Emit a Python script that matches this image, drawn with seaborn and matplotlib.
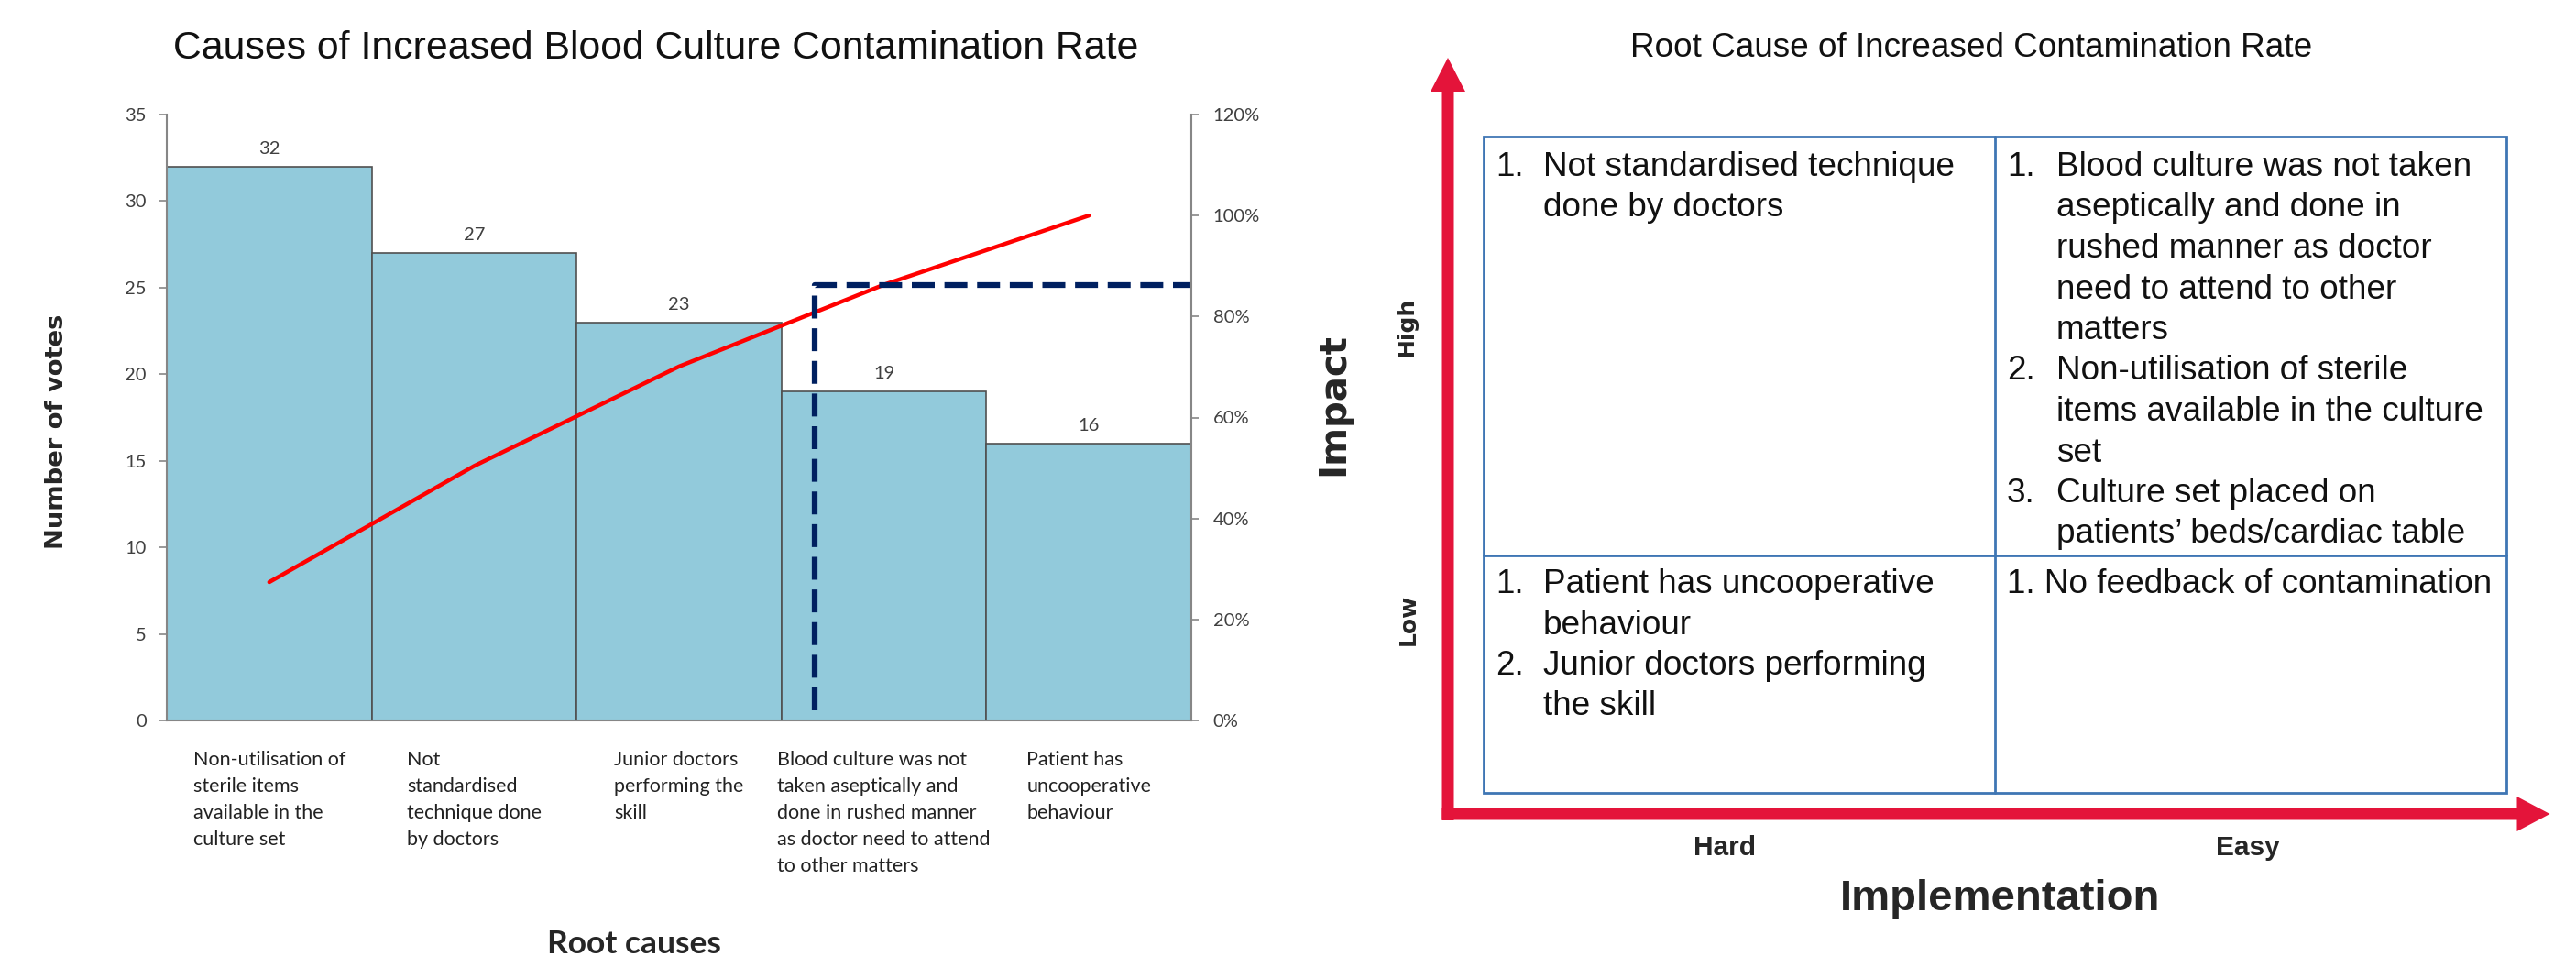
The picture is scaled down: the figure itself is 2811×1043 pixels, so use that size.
import matplotlib
matplotlib.use("Agg")
import matplotlib.pyplot as plt
from matplotlib.patches import FancyArrow, Rectangle
from matplotlib.ticker import PercentFormatter
import seaborn as sns

# pareto chart data
causes = [
    "Non-utilisation of\nsterile items\navailable in the\nculture set",
    "Not\nstandardised\ntechnique done\nby doctors",
    "Junior doctors\nperforming the\nskill",
    "Blood culture was not\ntaken aseptically and\ndone in rushed manner\nas doctor need to attend\nto other matters",
    "Patient has\nuncooperative\nbehaviour",
]
votes = [32, 27, 23, 19, 16]
cum_pct = [27.4, 50.4, 70.1, 86.3, 100.0]
cutoff_x = 2.66
cutoff_pct = 86.3

# impact / implementation matrix (each item already wrapped into lines)
high_hard = [["Not standardised technique", "done by doctors"]]
high_easy = [
    ["Blood culture was not taken", "aseptically and done in", "rushed manner as doctor",
     "need to attend to other", "matters"],
    ["Non-utilisation of sterile", "items available in the culture", "set"],
    ["Culture set placed on", "patients\u2019 beds/cardiac table"],
]
low_hard = [["Patient has uncooperative", "behaviour"], ["Junior doctors performing", "the skill"]]
low_easy = ["1. No feedback of contamination"]

sns.set_style("white")
plt.rcParams["font.family"] = ["Liberation Sans", "DejaVu Sans"]

W, H = 2811, 1043
fig = plt.figure(figsize=(W / 100, H / 100), dpi=100)

BAR = "#92CADB"
GREY = "#868686"
TXT = "#404040"
NAVY = "#002060"
RED_ARROW = "#E4143A"
BOX = "#3F76B4"

# ---------------- left: pareto ----------------
ax = fig.add_axes([182 / W, 1 - 786 / H, (1300 - 182) / W, (786 - 125) / H])
sns.barplot(x=causes, y=votes, width=1, color=BAR, saturation=1,
            edgecolor="#505050", linewidth=1.2, ax=ax)
ax.set_xlim(-0.5, 4.5)
ax.set_ylim(0, 35)
ax.set_yticks(range(0, 36, 5))
ax.bar_label(ax.containers[0], padding=8, fontsize=14.5, color=TXT, family="Lato")
ax.set_xlabel("")
ax.set_ylabel("")
for s in ["top", "right"]:
    ax.spines[s].set_visible(False)
for s in ["left", "bottom"]:
    ax.spines[s].set_color(GREY)
    ax.spines[s].set_linewidth(1.5)
ax.tick_params(axis="y", length=6, width=1.2, color=GREY, pad=10, labelsize=14.5, labelcolor=TXT)
ax.tick_params(axis="x", length=0, pad=24, labelsize=15.5, labelcolor="#222222")
for lbl in ax.get_yticklabels():
    lbl.set_family("Lato")
for lbl in ax.get_xticklabels():
    lbl.set_family("Lato")
    lbl.set_multialignment("left")
    lbl.set_linespacing(1.55)

ax2 = ax.twinx()
sns.lineplot(x=list(range(len(cum_pct))), y=cum_pct, color="#FF0000", lw=3.2, ax=ax2)
ax2.plot([cutoff_x, cutoff_x, 4.5], [2, cutoff_pct, cutoff_pct], color=NAVY, lw=4.5,
         ls=(0, (4, 1.7)), solid_joinstyle="miter")
ax2.set_xlim(-0.5, 4.5)
ax2.set_ylim(0, 120)
ax2.set_yticks(range(0, 121, 20))
ax2.yaxis.set_major_formatter(PercentFormatter(decimals=0))
ax2.set_ylabel("")
for s in ["top", "left", "bottom"]:
    ax2.spines[s].set_visible(False)
ax2.spines["right"].set_color(GREY)
ax2.spines["right"].set_linewidth(1.5)
ax2.tick_params(axis="y", length=6, width=1.2, color=GREY, pad=11, labelsize=14.5, labelcolor=TXT)
for lbl in ax2.get_yticklabels():
    lbl.set_family("Lato")

fig.text(716 / W, 1 - 53 / H, "Causes of Increased Blood Culture Contamination Rate",
         fontsize=30.8, ha="center", va="center", color="#111111")
fig.text(62 / W, 1 - 471 / H, "Number of votes", rotation=90, fontsize=19.7,
         fontweight="bold", family="DejaVu Sans", ha="center", va="center")
fig.text(692 / W, 1 - 1040 / H, "Root causes", fontsize=25.5, fontweight="bold",
         family="Lato", ha="center", va="baseline")

# ---------------- right: matrix ----------------
axr = fig.add_axes([1400 / W, 0, (W - 1400) / W, 1])
axr.set_xlim(1400, W)
axr.set_ylim(H, 0)
axr.axis("off")

axr.text(2151, 53, "Root Cause of Increased Contamination Rate", fontsize=26.6,
         ha="center", va="center", color="#111111")

axr.add_patch(FancyArrow(1580, 895, 0, -832, width=13, head_width=38, head_length=37,
                         length_includes_head=True, color=RED_ARROW, lw=0))
axr.add_patch(FancyArrow(1573.5, 888, 1209, 0, width=13, head_width=38, head_length=36,
                         length_includes_head=True, color=RED_ARROW, lw=0))

axr.add_patch(Rectangle((1619, 149), 2735 - 1619, 865 - 149, fill=False, ec=BOX, lw=2))
axr.plot([2177, 2177], [149, 865], color=BOX, lw=2)
axr.plot([1619, 2735], [606, 606], color=BOX, lw=2)

step = 44.5
fs_box = 26.6


def draw_items(items, x_num, x_txt, y0):
    row = 0
    for i, item in enumerate(items):
        axr.text(x_num, y0 + row * step, f"{i + 1}.", fontsize=fs_box, va="baseline", color="#111111")
        for line in item:
            axr.text(x_txt, y0 + row * step, line, fontsize=fs_box, va="baseline", color="#111111")
            row += 1


draw_items(high_hard, 1632, 1684, 192)
draw_items(high_easy, 2190, 2244, 192)
draw_items(low_hard, 1632, 1684, 647)
for k, line in enumerate(low_easy):
    axr.text(2190, 647 + k * step, line, fontsize=fs_box, va="baseline", color="#111111")

axr.text(1455, 441, "Impact", rotation=90, fontsize=29, fontweight="bold",
         family="DejaVu Sans", ha="center", va="center")
axr.text(1535, 356, "High", rotation=90, fontsize=18, fontweight="bold",
         family="DejaVu Sans", ha="center", va="center")
axr.text(1537, 676, "Low", rotation=90, fontsize=18, fontweight="bold",
         family="DejaVu Sans", ha="center", va="center")
axr.text(1882, 933, "Hard", fontsize=21.5, fontweight="bold", ha="center", va="baseline")
axr.text(2453, 933, "Easy", fontsize=21.5, fontweight="bold", ha="center", va="baseline")
axr.text(2183, 993, "Implementation", fontsize=34, fontweight="bold", ha="center", va="baseline")

fig.savefig("out.png", dpi=100)
